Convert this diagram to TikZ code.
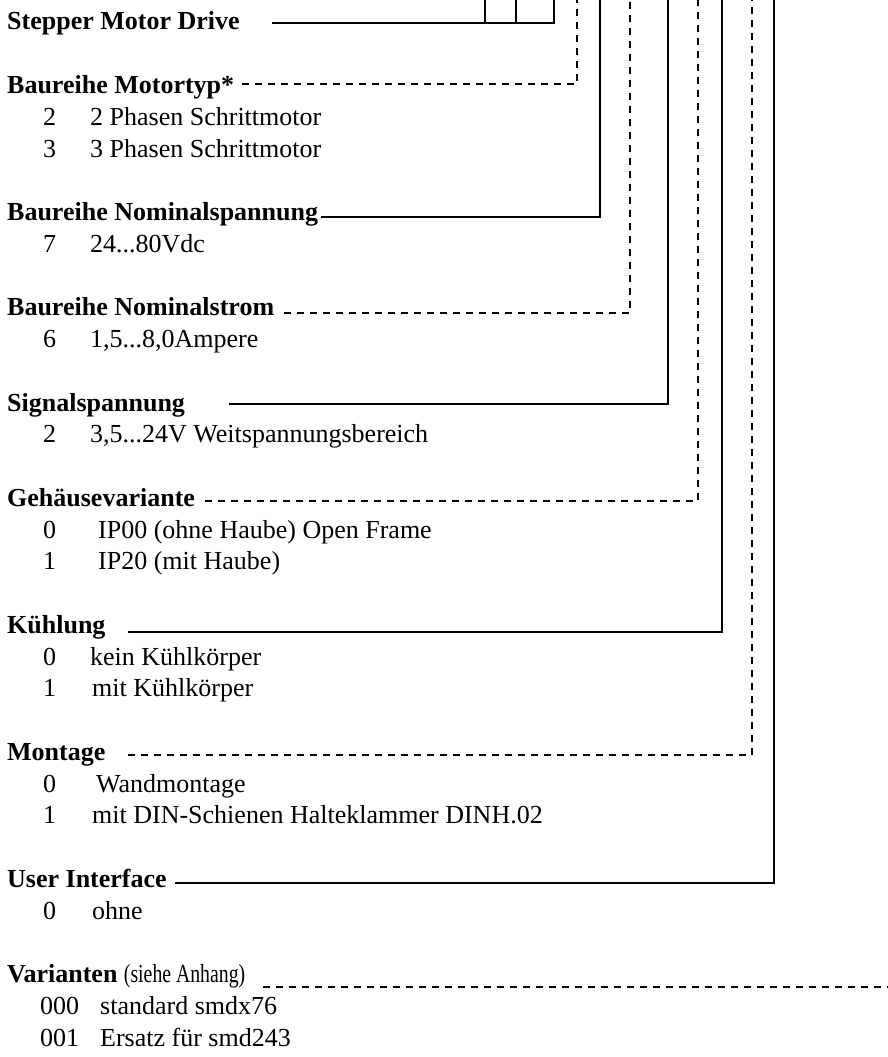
\documentclass[tikz,border=0pt]{standalone}
\usepackage{fontspec}
\setmainfont{Liberation Serif}
\newfontfamily\narrowserif{Liberation Serif}[FakeStretch=0.76]
\begin{document}
\begin{tikzpicture}[x=1pt,y=-1pt,
  lbl/.style={anchor=base west,inner sep=0pt,font=\fontsize{26}{30}\selectfont},
  hd/.style={lbl,font=\fontsize{26}{30}\selectfont\bfseries},
  sline/.style={line width=1.4pt},
  dline/.style={line width=1.4pt,dash pattern=on 7pt off 6pt}]
\useasboundingbox (0,0) rectangle (888,1057);

% ---- labels ----
\node[hd] (h0) at (7,30) {Stepper Motor Drive};
\node[hd] (h1) at (7,93.5) {Baureihe Motortyp*};
\node[lbl] (n11) at (43,125.25) {2};
\node[lbl] (t11) at (90,125.25) {2 Phasen Schrittmotor};
\node[lbl] (n12) at (43,157) {3};
\node[lbl] (t12) at (90,157) {3 Phasen Schrittmotor};

\node[hd] (h2) at (7,220.5) {Baureihe Nominalspannung};
\node[lbl] (n21) at (43,252.25) {7};
\node[lbl] (t21) at (90,252.25) {24...80Vdc};

\node[hd] (h3) at (7,315.75) {Baureihe Nominalstrom};
\node[lbl] (n31) at (43,347.5) {6};
\node[lbl] (t31) at (90,347.5) {1,5...8,0Ampere};

\node[hd] (h4) at (7,411) {Signalspannung};
\node[lbl] (n41) at (43,442.75) {2};
\node[lbl] (t41) at (90,442.75) {3,5...24V Weitspannungsbereich};

\node[hd] (h5) at (7,506.25) {Gehäusevariante};
\node[lbl] (n51) at (43,538) {0};
\node[lbl] (t51) at (98,538) {IP00 (ohne Haube) Open Frame};
\node[lbl] (n52) at (43,569.75) {1};
\node[lbl] (t52) at (98,569.75) {IP20 (mit Haube)};

\node[hd] (h6) at (7,633.25) {Kühlung};
\node[lbl] (n61) at (43,665) {0};
\node[lbl] (t61) at (90,665) {kein Kühlkörper};
\node[lbl] (n62) at (43,696.75) {1};
\node[lbl] (t62) at (92,696.75) {mit Kühlkörper};

\node[hd] (h7) at (7,760.25) {Montage};
\node[lbl] (n71) at (43,792) {0};
\node[lbl] (t71) at (96,792) {Wandmontage};
\node[lbl] (n72) at (43,823.75) {1};
\node[lbl] (t72) at (92,823.75) {mit DIN-Schienen Halteklammer DINH.02};

\node[hd] (h8) at (7,887.25) {User Interface};
\node[lbl] (n81) at (43,919) {0};
\node[lbl] (t81) at (92,919) {ohne};

\node[lbl] (h9) at (7,982.5) {\textbf{Varianten} {\narrowserif(siehe Anhang)}};
\node[lbl] (n91) at (40,1014.25) {000};
\node[lbl] (t91) at (100,1014.25) {standard smdx76};
\node[lbl] (n92) at (40,1046) {001};
\node[lbl] (t92) at (100,1046) {Ersatz für smd243};

% ---- connector coordinates ----
\coordinate (s0) at (272,23);  \coordinate (c0) at (554,23);  \coordinate (e0) at (554,0);
\coordinate (ba) at (485,23);  \coordinate (bat) at (485,0);
\coordinate (bb) at (516,23);  \coordinate (bbt) at (516,0);
\coordinate (s1) at (242,84);  \coordinate (c1) at (577,84);  \coordinate (e1) at (577,0);
\coordinate (s2) at (321,217); \coordinate (c2) at (600,217); \coordinate (e2) at (600,0);
\coordinate (s3) at (284,313); \coordinate (c3) at (630,313); \coordinate (e3) at (630,0);
\coordinate (s4) at (229,404); \coordinate (c4) at (668,404); \coordinate (e4) at (668,0);
\coordinate (s5) at (205,501); \coordinate (c5) at (698,501); \coordinate (e5) at (698,0);
\coordinate (s6) at (128,632); \coordinate (c6) at (722,632); \coordinate (e6) at (722,0);
\coordinate (s7) at (128,755); \coordinate (c7) at (752,755); \coordinate (e7) at (752,0);
\coordinate (s8) at (175,883); \coordinate (c8) at (774,883); \coordinate (e8) at (774,0);
\coordinate (s9) at (263,987); \coordinate (e9) at (888,987);

% ---- connectors ----
\draw[sline] (s0) -- (c0) -- (e0);
\draw[sline] (ba) -- (bat);
\draw[sline] (bb) -- (bbt);
\draw[dline] (s1) -- (c1) -- (e1);
\draw[sline] (s2) -- (c2) -- (e2);
\draw[dline] (s3) -- (c3) -- (e3);
\draw[sline] (s4) -- (c4) -- (e4);
\draw[dline] (s5) -- (c5) -- (e5);
\draw[sline] (s6) -- (c6) -- (e6);
\draw[dline] (s7) -- (c7) -- (e7);
\draw[sline] (s8) -- (c8) -- (e8);
\draw[dline] (s9) -- (e9);
\end{tikzpicture}
\end{document}
